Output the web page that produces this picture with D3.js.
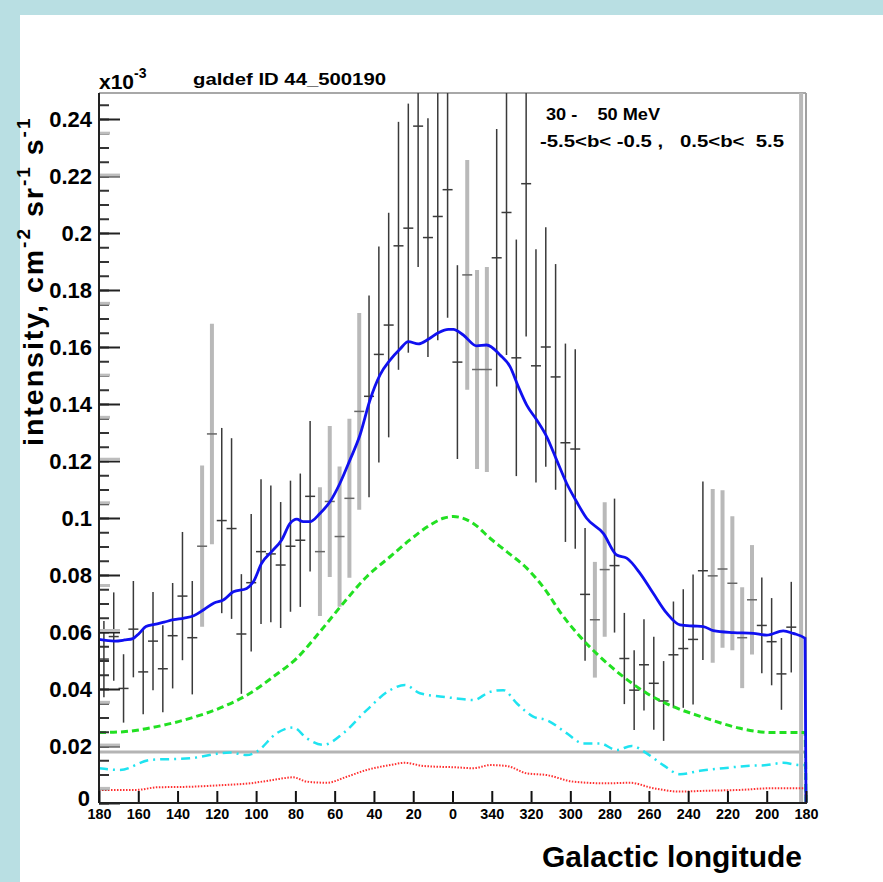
<!DOCTYPE html>
<html><head><meta charset="utf-8">
<script src="https://cdn.jsdelivr.net/npm/d3@7"></script>
<style>
body{margin:0;background:#fff}
svg{display:block}
text{font-family:"Liberation Sans",Arial,Helvetica,sans-serif;font-weight:bold;fill:#000}
</style>
</head><body>
<svg id="chart" width="883" height="882"></svg>
<script>
// ---------------- data ----------------
const binL = [177.5,172.5,167.5,162.5,157.5,152.5,147.5,142.5,137.5,132.5,127.5,122.5,117.5,112.5,107.5,102.5,97.5,92.5,87.5,82.5,77.5,72.5,67.5,62.5,57.5,52.5,47.5,42.5,37.5,32.5,27.5,22.5,17.5,12.5,7.5,2.5,-2.5,-7.5,-12.5,-17.5,-22.5,-27.5,-32.5,-37.5,-42.5,-47.5,-52.5,-57.5,-62.5,-67.5,-72.5,-77.5,-82.5,-87.5,-92.5,-97.5,-102.5,-107.5,-112.5,-117.5,-122.5,-127.5,-132.5,-137.5,-142.5,-147.5,-152.5,-157.5,-162.5,-167.5,-172.5,-177.5];
const obsValue = [0.0505,0.0584,0.0402,0.0610,0.0460,0.0568,0.0471,0.0587,0.0726,0.0580,0.0901,0.1295,0.0991,0.0963,0.0593,0.0773,0.0882,0.0874,0.0835,0.0901,0.0922,0.1076,0.0882,0.1058,0.0935,0.1069,0.1374,0.1427,0.1574,0.1677,0.1955,0.2017,0.2375,0.1984,0.2058,0.2152,0.1547,0.1853,0.1521,0.1521,0.1913,0.2072,0.1562,0.2173,0.1534,0.1600,0.1495,0.1264,0.1242,0.0732,0.0643,0.0819,0.0833,0.0507,0.0396,0.0485,0.0420,0.0358,0.0520,0.0542,0.0574,0.0815,0.0797,0.0821,0.0771,0.0580,0.0713,0.0623,0.0566,0.0453,0.0617,0.2600];
const obsError = [0.0134,0.0155,0.0120,0.0169,0.0149,0.0172,0.0153,0.0185,0.0225,0.0199,0.0283,0.0387,0.0325,0.0317,0.0210,0.0241,0.0254,0.0240,0.0221,0.0230,0.0234,0.0264,0.0226,0.0265,0.0246,0.0279,0.0345,0.0354,0.0379,0.0394,0.0435,0.0437,0.0494,0.0419,0.0434,0.0449,0.0340,0.0403,0.0349,0.0360,0.0452,0.0500,0.0415,0.0536,0.0409,0.0420,0.0396,0.0348,0.0350,0.0233,0.0203,0.0236,0.0235,0.0160,0.0140,0.0160,0.0163,0.0140,0.0187,0.0208,0.0228,0.0313,0.0305,0.0276,0.0235,0.0177,0.0192,0.0168,0.0153,0.0126,0.0159,0.2600];
const obsSet = ["b","b","b","b","b","b","b","b","b","b","g","g","b","b","b","b","b","b","b","b","b","b","g","g","g","g","g","b","b","b","b","b","b","b","b","b","b","g","g","g","b","b","b","b","b","b","b","b","b","b","g","g","b","b","b","b","b","b","b","b","b","b","g","g","g","g","g","b","b","b","b","g"];

const totalL = [180,172.1,166.9,162.7,159.6,156.1,151.7,146.8,141.9,136.7,131.8,126.5,121.4,116.7,111.6,104.8,101.4,97.2,92.1,87.0,82.7,79.3,76.0,72.6,67.5,62.4,57.3,52.2,47.1,42.0,36.9,31.8,26.7,22.5,17.4,12.3,7.2,2.1,-0.4,-5.5,-12.3,-17.4,-24.2,-29.3,-33.5,-37.8,-42.9,-48.0,-53.0,-58.1,-63.2,-68.3,-76.8,-83.6,-88.7,-95.5,-102.2,-109.1,-115.8,-122.6,-127.7,-132.8,-143.0,-153.2,-160.0,-168.4,-173.5,-179.5,-180];
const totalV = [0.0574,0.0568,0.0572,0.0577,0.0595,0.0619,0.0627,0.0635,0.0643,0.0649,0.0657,0.0679,0.0702,0.0712,0.0741,0.0753,0.0776,0.0841,0.0882,0.0923,0.0981,0.0996,0.0987,0.0987,0.1016,0.1057,0.1122,0.1204,0.1291,0.1414,0.1502,0.1554,0.1593,0.1619,0.1611,0.1627,0.1650,0.1662,0.1662,0.1642,0.1604,0.1607,0.1572,0.1531,0.1461,0.1396,0.1344,0.1285,0.1204,0.1122,0.1057,0.0999,0.0946,0.0870,0.0859,0.0806,0.0736,0.0666,0.0625,0.0621,0.0619,0.0605,0.0598,0.0595,0.0589,0.0604,0.0595,0.0578,0];

const pi0L = [180,167.6,150.6,133.7,116.7,103.1,91.3,79.3,67.5,55.6,43.7,31.8,21.7,11.5,4.7,-0.4,-10.6,-19.1,-27.6,-37.8,-48.0,-54.7,-64.9,-75.1,-87.0,-98.9,-112.4,-129.4,-146.4,-163.3,-179.5,-180];
const pi0V = [0.0247,0.0250,0.0268,0.0297,0.0338,0.0385,0.0443,0.0508,0.0601,0.0701,0.0794,0.0864,0.0923,0.0975,0.0999,0.1005,0.0981,0.0929,0.0882,0.0824,0.0741,0.0671,0.0584,0.0513,0.0443,0.0385,0.0338,0.0297,0.0262,0.0247,0.0247,0];

const icL = [180,169.3,154.0,133.7,113.3,104.8,99.7,89.5,81.1,74.2,65.8,55.6,43.7,31.8,24.2,16.6,6.4,-2.1,-10.6,-19.1,-25.9,-32.7,-41.1,-48.0,-58.1,-66.6,-75.1,-83.6,-91.2,-98.9,-107.3,-115.8,-126.0,-137.9,-149.8,-160.0,-168.4,-176.9,-179.5,-180];
const icV = [0.0122,0.0116,0.0151,0.0157,0.0177,0.0168,0.0180,0.0245,0.0265,0.0227,0.0204,0.0245,0.0326,0.0396,0.0414,0.0385,0.0374,0.0367,0.0361,0.0390,0.0396,0.0350,0.0303,0.0291,0.0245,0.0209,0.0209,0.0186,0.0200,0.0174,0.0133,0.0101,0.0113,0.0122,0.0130,0.0133,0.0141,0.0133,0.0133,0];

const bremL = [180,160.8,150.6,133.7,116.7,103.1,91.3,81.1,74.2,64.1,53.9,43.7,31.8,24.2,14.9,-2.1,-10.6,-19.1,-27.6,-37.8,-48.0,-61.5,-78.5,-90.4,-102.2,-115.8,-129.4,-146.4,-163.3,-176.9,-179.5,-180];
const bremV = [0.0046,0.0046,0.0055,0.0057,0.0063,0.0069,0.0081,0.0090,0.0075,0.0071,0.0092,0.0116,0.0133,0.0141,0.0130,0.0125,0.0122,0.0133,0.0130,0.0104,0.0098,0.0075,0.0069,0.0071,0.0052,0.0040,0.0043,0.0046,0.0052,0.0052,0.0052,0];

const isoLevel = 0.0179;

const yMajorTicks = [0,0.02,0.04,0.06,0.08,0.1,0.12,0.14,0.16,0.18,0.2,0.22,0.24];
const yTickLabels = ["0","0.02","0.04","0.06","0.08","0.1","0.12","0.14","0.16","0.18","0.2","0.22","0.24"];
const grayMajorTicks = [0.2205,0.1208,0.0607,0.0205];
const grayMinorTicks = [0.2352,0.1755,0.1503,0.1355,0.1055,0.0765,0.0355,0.0053];
const xTicks = [180,160,140,120,100,80,60,40,20,0,-20,-40,-60,-80,-100,-120,-140,-160,-180];
const xTickLabels = ["180","160","140","120","100","80","60","40","20","0","340","320","300","280","260","240","220","200","180"];

// ---------------- layout ----------------
const svg = d3.select("#chart");
const L = 99, R = 806, T = 93, B = 803;
const yTop = (B - T) / 2850;   // 0.02 per 57 px
const x = d3.scaleLinear().domain([180, -180]).range([L, R]);
const y = d3.scaleLinear().domain([0, yTop]).range([B, T]);

svg.append("rect").attr("width", 883).attr("height", 882).attr("fill", "#b9dfe3");
svg.append("rect").attr("x", 20).attr("y", 15).attr("width", 863).attr("height", 867).attr("fill", "#ffffff");

svg.append("defs").append("clipPath").attr("id", "plotclip")
  .append("rect").attr("x", L).attr("y", T).attr("width", R - L + 2).attr("height", B - T);

svg.append("line").attr("x1", L).attr("x2", R).attr("y1", T).attr("y2", T)
  .attr("stroke", "#a8a8a8").attr("stroke-width", 2);
svg.append("line").attr("x1", R).attr("x2", R).attr("y1", T).attr("y2", B)
  .attr("stroke", "#a0a0a0").attr("stroke-width", 2);

const plot = svg.append("g").attr("clip-path", "url(#plotclip)");

plot.append("line").attr("x1", L).attr("x2", R).attr("y1", y(isoLevel)).attr("y2", y(isoLevel))
  .attr("stroke", "#b4b4b4").attr("stroke-width", 3);

const pts = binL.map((l, i) => ({l, v: obsValue[i], e: obsError[i], s: obsSet[i]}));
const gray = pts.filter(d => d.s === "g"), black = pts.filter(d => d.s === "b");

plot.append("g").selectAll("line").data(gray).join("line")
  .attr("x1", d => x(d.l)).attr("x2", d => x(d.l))
  .attr("y1", d => y(Math.max(0, d.v - d.e))).attr("y2", d => y(d.v + d.e))
  .attr("stroke", "#b9b9b9").attr("stroke-width", 4);
plot.append("g").selectAll("line").data(gray).join("line")
  .attr("x1", d => x(d.l) - 5).attr("x2", d => x(d.l) + 5)
  .attr("y1", d => y(d.v)).attr("y2", d => y(d.v))
  .attr("stroke", "#666").attr("stroke-width", 1.5);

plot.append("g").selectAll("line").data(black).join("line")
  .attr("x1", d => x(d.l)).attr("x2", d => x(d.l))
  .attr("y1", d => y(Math.max(0, d.v - d.e))).attr("y2", d => y(d.v + d.e))
  .attr("stroke", "#3a3a3a").attr("stroke-width", 1.5);
plot.append("g").selectAll("line").data(black).join("line")
  .attr("x1", d => x(d.l) - 5).attr("x2", d => x(d.l) + 5)
  .attr("y1", d => y(d.v)).attr("y2", d => y(d.v))
  .attr("stroke", "#3a3a3a").attr("stroke-width", 1.5);

const line = d3.line().x(d => x(d[0])).y(d => y(d[1])).curve(d3.curveMonotoneX);
function curve(ls, vs) { return line(ls.map((l, i) => [l, vs[i]])); }

plot.append("path").attr("d", curve(bremL, bremV)).attr("fill", "none")
  .attr("stroke", "#ff3030").attr("stroke-width", 2).attr("stroke-dasharray", "1.5,1.5");
plot.append("path").attr("d", curve(icL, icV)).attr("fill", "none")
  .attr("stroke", "#1fe3f0").attr("stroke-width", 2.5).attr("stroke-dasharray", "9,5,2,5");
plot.append("path").attr("d", curve(pi0L, pi0V)).attr("fill", "none")
  .attr("stroke", "#22e022").attr("stroke-width", 3).attr("stroke-dasharray", "7,4");
plot.append("path").attr("d", curve(totalL, totalV)).attr("fill", "none")
  .attr("stroke", "#1010f0").attr("stroke-width", 2.8);

// ---------------- axes ----------------
const yMinor = d3.range(0, yTop, 0.005);
const gYm = svg.append("g").attr("transform", `translate(${L},0)`)
  .call(d3.axisLeft(y).tickValues(yMinor).tickSizeInner(-10).tickSizeOuter(0).tickFormat(""));
gYm.select(".domain").remove();
gYm.selectAll("line").attr("stroke", "#333").attr("stroke-width", 2);

const yAxis = d3.axisLeft(y).tickValues(yMajorTicks).tickSizeInner(-21).tickSizeOuter(0).tickPadding(7)
  .tickFormat((d, i) => yTickLabels[i]);
const gY = svg.append("g").attr("transform", `translate(${L},0)`).call(yAxis);
gY.select(".domain").remove();
gY.selectAll("line").attr("stroke", "#222").attr("stroke-width", 2);
gY.selectAll("text").attr("font-size", 22).attr("font-family", "Liberation Sans, Arial, sans-serif")
  .attr("font-weight", "bold").attr("fill", "#000");
gY.selectAll("text").filter(d => d === 0).attr("dy", "0.1em").attr("x", -9);

const gGm = svg.append("g").attr("transform", `translate(${L},0)`)
  .call(d3.axisLeft(y).tickValues(grayMajorTicks).tickSizeInner(-21).tickSizeOuter(0).tickFormat(""));
gGm.select(".domain").remove();
gGm.selectAll("line").attr("stroke", "#bdbdbd").attr("stroke-width", 3);
const gGn = svg.append("g").attr("transform", `translate(${L},0)`)
  .call(d3.axisLeft(y).tickValues(grayMinorTicks).tickSizeInner(-11).tickSizeOuter(0).tickFormat(""));
gGn.select(".domain").remove();
gGn.selectAll("line").attr("stroke", "#bdbdbd").attr("stroke-width", 3);

svg.append("line").attr("x1", L).attr("x2", L).attr("y1", T).attr("y2", B)
  .attr("stroke", "#222").attr("stroke-width", 2);

const xAxis = d3.axisBottom(x).tickValues(xTicks).tickSizeInner(-12).tickSizeOuter(0).tickPadding(5)
  .tickFormat((d, i) => xTickLabels[i]);
const gX = svg.append("g").attr("transform", `translate(0,${B})`).call(xAxis);
gX.select(".domain").remove();
gX.selectAll("line").attr("stroke", "#111").attr("stroke-width", 2);
gX.selectAll("text").attr("font-size", 15).attr("font-family", "Liberation Sans, Arial, sans-serif")
  .attr("font-weight", "bold").attr("fill", "#000")
  .attr("textLength", (d, i) => xTickLabels[i].length * 8).attr("lengthAdjust", "spacingAndGlyphs");
svg.append("line").attr("x1", L).attr("x2", R + 1).attr("y1", B).attr("y2", B)
  .attr("stroke", "#222").attr("stroke-width", 2);

// ---------------- texts ----------------
const t1 = svg.append("text").attr("x", 99).attr("y", 89).attr("font-size", 21);
t1.append("tspan").text("x10");
t1.append("tspan").attr("font-size", 14).attr("dy", -11).text("-3");

svg.append("text").attr("x", 193).attr("y", 85).attr("font-size", 16)
  .attr("textLength", 193).attr("lengthAdjust", "spacingAndGlyphs").text("galdef ID 44_500190");

svg.append("text").attr("x", 546).attr("y", 120).attr("font-size", 16)
  .style("white-space", "pre").attr("textLength", 114).attr("lengthAdjust", "spacingAndGlyphs")
  .text("30 -    50 MeV");
svg.append("text").attr("x", 540).attr("y", 147).attr("font-size", 16)
  .style("white-space", "pre").attr("textLength", 244).attr("lengthAdjust", "spacingAndGlyphs")
  .text("-5.5<b< -0.5 ,   0.5<b<  5.5");

const yt = svg.append("text").attr("transform", "translate(43,446) rotate(-90)")
  .attr("font-size", 28.5).attr("letter-spacing", "2px");
yt.append("tspan").text("intensity, cm");
yt.append("tspan").attr("font-size", 19).attr("dy", -13).text("-2");
yt.append("tspan").attr("dy", 13).text(" sr");
yt.append("tspan").attr("font-size", 19).attr("dy", -13).text("-1");
yt.append("tspan").attr("dy", 13).text(" s");
yt.append("tspan").attr("font-size", 19).attr("dy", -13).text("-1");

svg.append("text").attr("x", 802).attr("y", 867).attr("font-size", 30).attr("text-anchor", "end")
  .text("Galactic longitude");
</script>
</body></html>
